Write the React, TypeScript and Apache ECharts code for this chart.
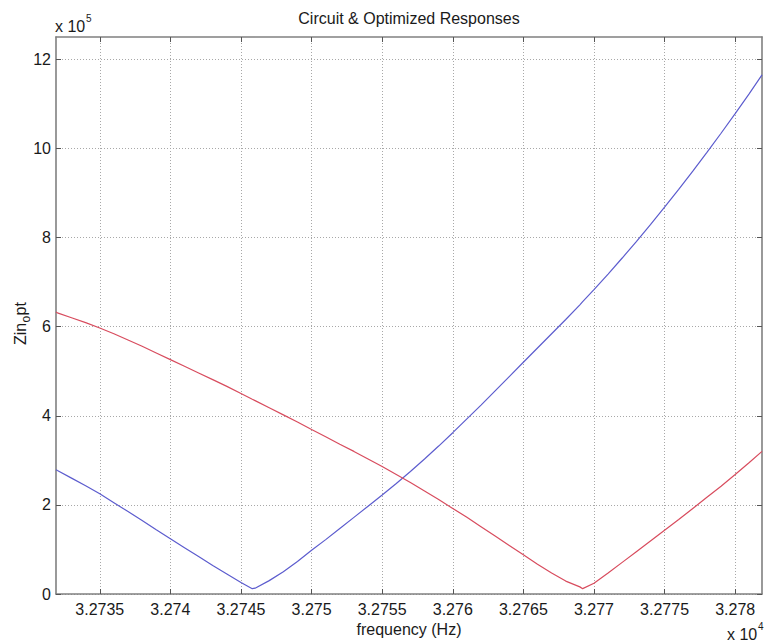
import React, { useEffect, useRef } from 'react';
import * as echarts from 'echarts';

// frequency in units of 10^4 Hz
const frequency = [
  3.27319, 3.2732, 3.2733, 3.2734, 3.2735, 3.2736, 3.2737, 3.2738, 3.2739, 3.274,
  3.2741, 3.2742, 3.2743, 3.2744, 3.2745, 3.27458, 3.2746, 3.2747, 3.2748, 3.2749,
  3.275, 3.2751, 3.2752, 3.2753, 3.2754, 3.2755, 3.2756, 3.2757, 3.2758, 3.2759,
  3.276, 3.2761, 3.2762, 3.2763, 3.2764, 3.2765, 3.2766, 3.2767, 3.2768, 3.2769,
  3.27692, 3.277, 3.2771, 3.2772, 3.2773, 3.2774, 3.2775, 3.2776, 3.2777, 3.2778,
  3.2779, 3.278, 3.2781, 3.27819,
];

// Zin_opt in units of 10^5
const circuitResponse = [
  2.79, 2.77, 2.6, 2.43, 2.25, 2.05, 1.85, 1.65, 1.44, 1.24,
  1.04, 0.84, 0.64, 0.45, 0.26, 0.12, 0.13, 0.3, 0.5, 0.73,
  0.98, 1.22, 1.47, 1.72, 1.97, 2.22, 2.48, 2.75, 3.03, 3.32,
  3.62, 3.93, 4.24, 4.56, 4.88, 5.2, 5.52, 5.84, 6.16, 6.49,
  6.56, 6.83, 7.18, 7.54, 7.91, 8.29, 8.68, 9.08, 9.49, 9.91,
  10.34, 10.78, 11.23, 11.65,
];

const optimizedResponse = [
  6.33, 6.31, 6.2, 6.09, 5.97, 5.84, 5.7, 5.56, 5.41, 5.26,
  5.11, 4.96, 4.81, 4.66, 4.5, 4.37, 4.34, 4.18, 4.02, 3.86,
  3.69, 3.53, 3.36, 3.2, 3.03, 2.86, 2.68, 2.5, 2.31, 2.12,
  1.92, 1.72, 1.51, 1.3, 1.09, 0.88, 0.67, 0.47, 0.29, 0.16,
  0.12, 0.24, 0.47, 0.71, 0.95, 1.19, 1.43, 1.67, 1.92, 2.17,
  2.42, 2.68, 2.95, 3.2,
];

const xTicks = [3.2735, 3.274, 3.2745, 3.275, 3.2755, 3.276, 3.2765, 3.277, 3.2775, 3.278];
const xTickLabels = ['3.2735', '3.274', '3.2745', '3.275', '3.2755', '3.276', '3.2765', '3.277', '3.2775', '3.278'];
const yTicks = [0, 2, 4, 6, 8, 10, 12];
const yTickLabels = ['0', '2', '4', '6', '8', '10', '12'];

const FONT = "'Liberation Sans', Arial, Helvetica, sans-serif";
const BORDER = '#808080';
const TEXT = '#1a1a1a';

function labelFor(ticks: number[], labels: string[], v: number): string {
  for (let i = 0; i < ticks.length; i++) {
    if (Math.abs(ticks[i] - v) < 1e-7) return labels[i];
  }
  return '';
}

export default function App() {
  const ref = useRef<HTMLDivElement>(null);
  useEffect(() => {
    document.body.style.margin = '0';
    if (!ref.current) return;
    const chart = echarts.init(ref.current, null, { renderer: 'svg' });
    const gridStyle = { show: true, lineStyle: { color: '#a8a8a8', type: [1, 2] as any, width: 1 } };
    const option: any = {
      animation: false,
      backgroundColor: '#ffffff',
      grid: { left: 56, right: 3, top: 37, bottom: 49, containLabel: false },
      xAxis: [
        {
          type: 'value',
          position: 'bottom',
          min: 3.27319,
          max: 3.27819,
          axisLine: { show: true, onZero: false, lineStyle: { color: BORDER, width: 1.6 } },
          axisTick: { show: true, inside: true, length: 5, customValues: xTicks, lineStyle: { color: '#555', width: 1 } },
          axisLabel: {
            show: true,
            customValues: xTicks,
            margin: 7,
            color: TEXT,
            fontSize: 16,
            fontFamily: FONT,
            formatter: (v: number) => labelFor(xTicks, xTickLabels, v),
          },
          splitLine: gridStyle,
          name: 'frequency (Hz)',
          nameLocation: 'middle',
          nameGap: 26,
          nameTextStyle: { color: TEXT, fontSize: 16, fontFamily: FONT },
        },
        {
          type: 'value',
          position: 'top',
          min: 3.27319,
          max: 3.27819,
          axisLine: { show: true, onZero: false, lineStyle: { color: BORDER, width: 1.6 } },
          axisTick: { show: true, inside: true, length: 5, customValues: xTicks, lineStyle: { color: '#555', width: 1 } },
          axisLabel: { show: false },
          splitLine: { show: false },
        },
      ],
      yAxis: [
        {
          type: 'value',
          position: 'left',
          min: 0,
          max: 12.5,
          axisLine: { show: true, onZero: false, lineStyle: { color: BORDER, width: 1.6 } },
          axisTick: { show: true, inside: true, length: 5, customValues: yTicks, lineStyle: { color: '#555', width: 1 } },
          axisLabel: {
            show: true,
            customValues: yTicks,
            margin: 5,
            color: TEXT,
            fontSize: 16,
            fontFamily: FONT,
            formatter: (v: number) => labelFor(yTicks, yTickLabels, v),
          },
          splitLine: gridStyle,
        },
        {
          type: 'value',
          position: 'right',
          min: 0,
          max: 12.5,
          axisLine: { show: true, onZero: false, lineStyle: { color: BORDER, width: 1.6 } },
          axisTick: { show: true, inside: true, length: 5, customValues: yTicks, lineStyle: { color: '#555', width: 1 } },
          axisLabel: { show: false },
          splitLine: { show: false },
        },
      ],
      series: [
        {
          name: 'Circuit',
          type: 'line',
          xAxisIndex: 0,
          yAxisIndex: 0,
          showSymbol: false,
          smooth: false,
          lineStyle: { color: '#5c5cce', width: 1.2 },
          itemStyle: { color: '#5c5cce' },
          data: frequency.map((f, i) => [f, circuitResponse[i]]),
        },
        {
          name: 'Optimized',
          type: 'line',
          xAxisIndex: 0,
          yAxisIndex: 0,
          showSymbol: false,
          smooth: false,
          lineStyle: { color: '#d84c5e', width: 1.2 },
          itemStyle: { color: '#d84c5e' },
          data: frequency.map((f, i) => [f, optimizedResponse[i]]),
        },
      ],
      graphic: [
        {
          type: 'text',
          x: 409,
          y: 18,
          style: { text: 'Circuit & Optimized Responses', fill: TEXT, font: `16px ${FONT}`, align: 'center', verticalAlign: 'middle' },
        },
        {
          type: 'text',
          x: 55,
          y: 26,
          style: { text: 'x 10', fill: TEXT, font: `16px ${FONT}`, align: 'left', verticalAlign: 'middle' },
        },
        {
          type: 'text',
          x: 86,
          y: 18,
          style: { text: '5', fill: TEXT, font: `10px ${FONT}`, align: 'left', verticalAlign: 'middle' },
        },
        {
          type: 'text',
          x: 727,
          y: 634,
          style: { text: 'x 10', fill: TEXT, font: `16px ${FONT}`, align: 'left', verticalAlign: 'middle' },
        },
        {
          type: 'text',
          x: 758,
          y: 626,
          style: { text: '4', fill: TEXT, font: `10px ${FONT}`, align: 'left', verticalAlign: 'middle' },
        },
        {
          type: 'group',
          x: 20,
          y: 345,
          rotation: Math.PI / 2,
          children: [
            { type: 'text', x: 0, y: 0, style: { text: 'Zin', fill: TEXT, font: `16px ${FONT}`, align: 'left', verticalAlign: 'middle' } },
            { type: 'text', x: 22.5, y: 6, style: { text: 'o', fill: TEXT, font: `12px ${FONT}`, align: 'left', verticalAlign: 'middle' } },
            { type: 'text', x: 29.5, y: 0, style: { text: 'pt', fill: TEXT, font: `16px ${FONT}`, align: 'left', verticalAlign: 'middle' } },
          ],
        },
      ],
    };
    chart.setOption(option);
    return () => chart.dispose();
  }, []);
  return <div ref={ref} style={{ width: 765, height: 643 }} />;
}
